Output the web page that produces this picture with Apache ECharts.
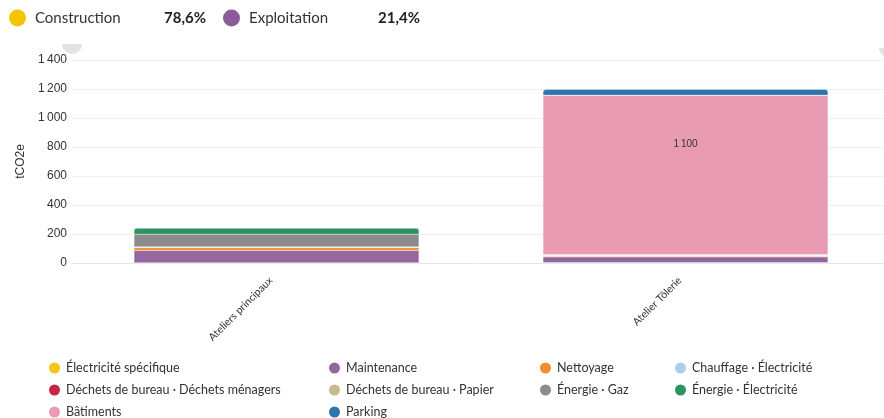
<!DOCTYPE html>
<html><head><meta charset="utf-8">
<script src="https://cdn.jsdelivr.net/npm/echarts@6/dist/echarts.min.js"></script>
<style>html,body{margin:0;padding:0;background:#fff}#c{width:884px;height:418px}</style>
</head><body><div id="c"></div>
<script>
const categories = ['Ateliers principaux', 'Atelier Tôlerie'];
const seriesNames = ['Électricité spécifique', 'Maintenance', 'Nettoyage', 'Chauffage · Électricité',
  'Déchets de bureau · Déchets ménagers', 'Déchets de bureau · Papier', 'Énergie · Gaz', 'Énergie · Électricité',
  'Bâtiments', 'Parking'];
const seriesColors = ['#f4c51c', '#9467a0', '#f28e2b', '#aecde9', '#c8243f', '#c8b98c', '#8c8c8c', '#2e9162', '#e89bb3', '#2e75b0'];
const elecSpecifique = [1, 2];
const maintenance = [86, 40];
const nettoyage = [20, 6];
const chauffageElec = [0, 4];
const dechetsMenagers = [1, 1];
const dechetsPapier = [3, 4];
const energieGaz = [87, 0];
const energieElec = [44, 0];
const batiments = [0, 1100];
const parking = [0, 40];
const seriesValues = [elecSpecifique, maintenance, nettoyage, chauffageElec, dechetsMenagers, dechetsPapier, energieGaz, energieElec, batiments, parking];
const phaseNames = ['Construction', 'Exploitation'];
const phaseShares = [78.6, 21.4];
const phaseLabels = ['78,6%', '21,4%'];
const phaseColors = ['#f5c400', '#8b5a99'];
const yTicks = { min: 0, max: 1400, interval: 200 };
const labelledValue = 1100;

const FONT = 'Lato, "Open Sans", sans-serif';
const AFONT = 'Arial, "Liberation Sans", sans-serif';
const fmt = v => String(v).replace(/\B(?=(\d{3})+(?!\d))/g, '\u2009');

const chart = echarts.init(document.getElementById('c'));

const topIdx = categories.map((_, ci) => {
  let t = -1; seriesValues.forEach((arr, si) => { if (arr[ci] > 0) t = si; }); return t;
});

const barSeries = seriesNames.map((name, si) => ({
  name, type: 'bar', stack: 'total', barWidth: 285,
  itemStyle: { color: seriesColors[si], borderColor: '#fff', borderWidth: 0.3 },
  data: seriesValues[si].map((v, ci) => {
    const d = { value: v };
    if (topIdx[ci] === si) d.itemStyle = { borderRadius: [3, 3, 0, 0] };
    if (v === labelledValue) d.label = {
      show: true, position: 'insideTop', distance: 44, formatter: p => fmt(p.value),
      fontFamily: AFONT, fontSize: 10, color: '#333'
    };
    return d;
  })
}));

const colLeft = [47, 327, 538, 673];
const rowCenter = [367, 389, 411];
const itemLegends = seriesNames.map((n, i) => ({
  data: [n], left: colLeft[i % 4] - 5, top: rowCenter[Math.floor(i / 4)] - 6.5 - 5,
  itemWidth: 13, itemHeight: 13, icon: 'circle', selectedMode: false,
  textStyle: { fontSize: 12.5, color: '#333', fontFamily: FONT }
}));

chart.setOption({
  animation: false,
  textStyle: { fontFamily: FONT },
  legend: [{
    data: phaseNames, left: 4, top: 4.5, itemWidth: 17, itemHeight: 17, itemGap: 17, icon: 'circle',
    selectedMode: false,
    formatter: n => `{n|${n}}{v|${phaseLabels[phaseNames.indexOf(n)]}}`,
    textStyle: {
      rich: {
        n: { width: 128, padding: [0, 0, 0, 4], fontSize: 15, color: '#333', fontFamily: FONT },
        v: { width: 43, align: 'right', fontSize: 15, fontWeight: 'bold', color: '#222', fontFamily: FONT }
      }
    }
  }, ...itemLegends],
  grid: { left: 72, width: 818, top: 60, bottom: 155, containLabel: false, outerBoundsMode: 'none' },
  xAxis: {
    type: 'category', data: categories,
    axisLine: { lineStyle: { color: '#e6e6e6' } }, axisTick: { show: false },
    axisLabel: { rotate: 45, fontSize: 10.5, color: '#333', margin: 10, padding: [0, 8, 0, 0], fontFamily: FONT }
  },
  yAxis: {
    type: 'value', min: yTicks.min, max: yTicks.max, interval: yTicks.interval,
    name: 'tCO2e', nameLocation: 'middle', nameGap: 44,
    nameTextStyle: { fontFamily: AFONT, fontSize: 12, color: '#333' },
    axisLine: { show: false }, axisTick: { show: false },
    splitLine: { lineStyle: { color: '#eeeeee' } },
    axisLabel: { formatter: fmt, fontFamily: AFONT, fontSize: 12, color: '#333', margin: 5 }
  },
  graphic: [
    { type: 'sector', shape: { cx: 72, cy: 44, r: 10, startAngle: 0, endAngle: Math.PI }, style: { fill: '#e2e2e2' }, silent: true },
    { type: 'sector', shape: { cx: 888, cy: 48, r: 9, startAngle: 0, endAngle: Math.PI }, style: { fill: '#e2e2e2' }, silent: true }
  ],
  series: [
    { name: 'phases', type: 'pie', radius: [0, 0], center: [-100, -100], silent: true, label: { show: false },
      data: phaseNames.map((n, i) => ({ name: n, value: phaseShares[i], itemStyle: { color: phaseColors[i] } })) },
    ...barSeries
  ]
});
</script></body></html>
